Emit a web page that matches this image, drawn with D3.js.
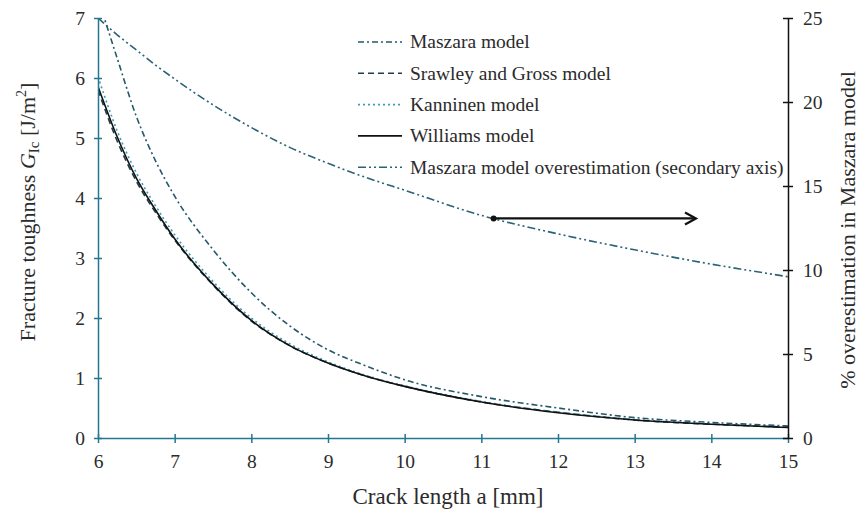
<!DOCTYPE html>
<html>
<head>
<meta charset="utf-8">
<script src="https://cdn.jsdelivr.net/npm/d3@7"></script>
<style>
  html, body { margin: 0; padding: 0; background: #fff; }
  svg { display: block; }
  svg text { font-family: "Liberation Serif", "Times New Roman", "DejaVu Serif", serif; fill: #2b2b2b; }
</style>
</head>
<body>
<svg id="chart" width="861" height="518"></svg>
<script>
// Crack length [mm] at which each model was evaluated
const crackLength = [6, 6.25, 6.5, 6.75, 7, 7.5, 8, 8.5, 9, 9.5, 10, 11, 12, 13, 14, 15];

// Fracture toughness G_Ic [J/m^2] for each model
const maszara      = [7.33, 6.33, 5.36, 4.62, 4.03, 3.14, 2.42, 1.87, 1.47, 1.20, 0.97, 0.69, 0.50, 0.34, 0.26, 0.20];
const srawleyGross = [5.80, 4.95, 4.28, 3.76, 3.30, 2.55, 1.95, 1.54, 1.25, 1.03, 0.86, 0.60, 0.43, 0.30, 0.23, 0.18];
const kanninen     = [6.02, 5.12, 4.42, 3.87, 3.39, 2.61, 2.00, 1.57, 1.27, 1.04, 0.87, 0.61, 0.43, 0.31, 0.235, 0.18];
const williams     = [5.86, 5.02, 4.33, 3.80, 3.32, 2.56, 1.96, 1.54, 1.25, 1.03, 0.86, 0.60, 0.42, 0.30, 0.23, 0.175];

// % overestimation of the Maszara model (secondary axis)
const overestimation = [25.0, 24.0, 23.1, 22.2, 21.37, 19.83, 18.48, 17.3, 16.35, 15.5, 14.75, 13.25, 12.15, 11.2, 10.35, 9.6];

// Axis ticks
const xTicks = [6, 7, 8, 9, 10, 11, 12, 13, 14, 15];
const yTicks = [0, 1, 2, 3, 4, 5, 6, 7];
const y2Ticks = [0, 5, 10, 15, 20, 25];

// Arrow pointing from the overestimation curve toward the secondary axis
const arrowFrom = 11.16;
const arrowTo = 13.8;
const arrowLevel = 13.07;

const legendNames = [
  "Maszara model",
  "Srawley and Gross model",
  "Kanninen model",
  "Williams model",
  "Maszara model overestimation (secondary axis)"
];

const margin = { left: 98, right: 73, top: 18, bottom: 80 };
const W = 861, H = 518;
const svg = d3.select("#chart");

const x = d3.scaleLinear().domain([6, 15]).range([margin.left, W - margin.right]);
const y = d3.scaleLinear().domain([0, 7]).range([H - margin.bottom, margin.top]);
const y2 = d3.scaleLinear().domain([0, 25]).range([H - margin.bottom, margin.top]);

const axisTeal = "#23788f";
const serif = '"Liberation Serif", "Times New Roman", "DejaVu Serif", serif';

svg.append("defs").append("clipPath").attr("id", "plotClip")
  .append("rect")
  .attr("x", x(6)).attr("y", y(7))
  .attr("width", x(15) - x(6)).attr("height", y(0) - y(7));

// Series styles
const series = [
  { name: legendNames[0], values: maszara,      scale: y,  color: "#24586a", dash: "6,3,2,3", width: 1.6 },
  { name: legendNames[1], values: srawleyGross, scale: y,  color: "#1e3d48", dash: "6,4",     width: 1.6 },
  { name: legendNames[2], values: kanninen,     scale: y,  color: "#3e9bb9", dash: "2,3",     width: 1.6 },
  { name: legendNames[3], values: williams,     scale: y,  color: "#111111", dash: null,      width: 1.6 },
  { name: legendNames[4], values: overestimation, scale: y2, color: "#2b6376", dash: "8,3,2,3,2,3", width: 1.6 }
];

const plot = svg.append("g").attr("clip-path", "url(#plotClip)");

series.forEach(s => {
  const line = d3.line()
    .x((d, i) => x(crackLength[i]))
    .y(d => s.scale(d))
    .curve(d3.curveMonotoneX);
  plot.append("path")
    .datum(s.values)
    .attr("fill", "none")
    .attr("stroke", s.color)
    .attr("stroke-width", s.width)
    .attr("stroke-dasharray", s.dash)
    .attr("d", line);
});

// Axes
const fontSize = 19.5;
const fmt = d3.format("d");

function styleTicks(g) {
  g.attr("font-family", serif).attr("font-size", fontSize);
  g.selectAll(".tick text").attr("fill", "#2b2b2b");
}

const xAxis = d3.axisBottom(x).tickValues(xTicks).tickFormat(fmt).tickSizeInner(5).tickSizeOuter(0).tickPadding(11);
const gx = svg.append("g").attr("transform", `translate(0,${y(0)})`).call(xAxis).call(styleTicks);
gx.select(".domain").attr("stroke", axisTeal).attr("stroke-width", 1.5);
gx.selectAll(".tick line").attr("stroke", axisTeal).attr("stroke-width", 1.5).attr("y1", -4);

const yAxis = d3.axisLeft(y).tickValues(yTicks).tickFormat(fmt).tickSizeInner(4).tickSizeOuter(0).tickPadding(9);
const gy = svg.append("g").attr("transform", `translate(${x(6)},0)`).call(yAxis).call(styleTicks);
gy.select(".domain").attr("stroke", axisTeal).attr("stroke-width", 1.5);
gy.selectAll(".tick line").attr("stroke", axisTeal).attr("stroke-width", 1.5).attr("x1", 4);

const y2Axis = d3.axisRight(y2).tickValues(y2Ticks).tickFormat(fmt).tickSizeInner(5).tickSizeOuter(0).tickPadding(10);
const gy2 = svg.append("g").attr("transform", `translate(${x(15)},0)`).call(y2Axis).call(styleTicks);
gy2.select(".domain").attr("stroke", "#111").attr("stroke-width", 1.5);
gy2.selectAll(".tick line").attr("stroke", "#111").attr("stroke-width", 1.5).attr("x1", -5);

// Axis titles
svg.append("text")
  .attr("x", (x(6) + x(15)) / 2 + 5)
  .attr("y", 504)
  .attr("text-anchor", "middle")
  .attr("font-size", 23)
  .text("Crack length a [mm]");

const yTitle = svg.append("text")
  .attr("transform", `translate(35,${212}) rotate(-90)`)
  .attr("text-anchor", "middle")
  .attr("font-size", 22);
yTitle.append("tspan").text("Fracture toughness  ");
yTitle.append("tspan").attr("font-style", "italic").text("G");
yTitle.append("tspan").attr("font-size", 15).attr("dy", 4).text("Ic");
yTitle.append("tspan").attr("dy", -4).text(" [J/m");
yTitle.append("tspan").attr("font-size", 14).attr("dy", -9).text("2");
yTitle.append("tspan").attr("dy", 9).text("]");

svg.append("text")
  .attr("transform", `translate(855,${230}) rotate(-90)`)
  .attr("text-anchor", "middle")
  .attr("font-size", 22)
  .text("% overestimation in Maszara model");

// Legend
const legend = svg.append("g");
series.forEach((s, i) => {
  const ly = 42 + i * 31.3;
  legend.append("line")
    .attr("x1", 358).attr("x2", 402)
    .attr("y1", ly).attr("y2", ly)
    .attr("stroke", s.color)
    .attr("stroke-width", s.width)
    .attr("stroke-dasharray", s.dash);
  legend.append("text")
    .attr("x", 410).attr("y", ly)
    .attr("dy", "0.33em")
    .attr("font-size", 19.5)
    .text(s.name);
});

// Arrow annotation
const ax0 = x(arrowFrom), ax1 = x(arrowTo), ay = y2(arrowLevel);
svg.append("line")
  .attr("x1", ax0).attr("x2", ax1 - 1)
  .attr("y1", ay).attr("y2", ay)
  .attr("stroke", "#111").attr("stroke-width", 2.2);
svg.append("circle").attr("cx", ax0).attr("cy", ay).attr("r", 3).attr("fill", "#111");
svg.append("path")
  .attr("d", `M${ax1 - 11},${ay - 6} L${ax1},${ay} L${ax1 - 11},${ay + 6}`)
  .attr("fill", "none").attr("stroke", "#111").attr("stroke-width", 2.2);
</script>
</body>
</html>
